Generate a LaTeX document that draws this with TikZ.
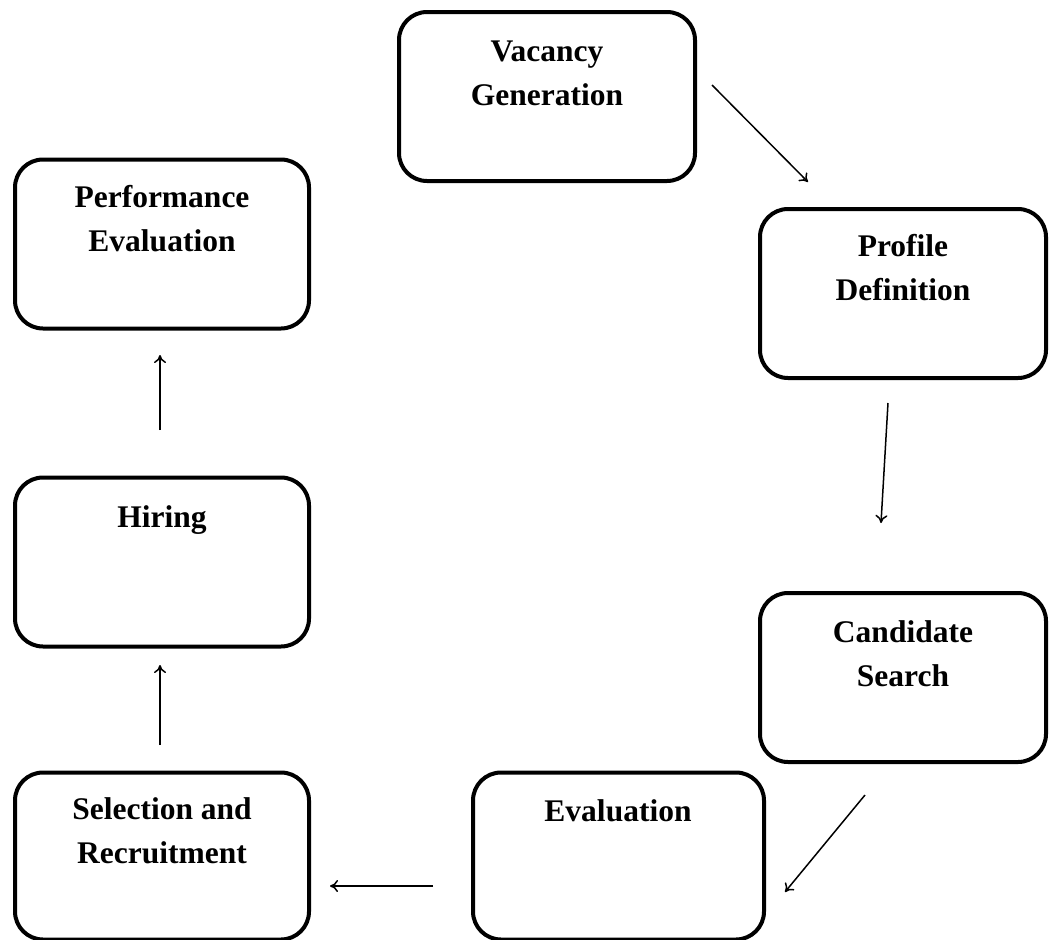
\documentclass[tikz,border=0pt]{standalone}
\usepackage{fontspec}
\setmainfont{Liberation Serif}
\usetikzlibrary{arrows.meta}
\begin{document}
\begin{tikzpicture}[x=1pt,y=-1pt,
  box/.style={draw, line width=4pt, rounded corners=28pt, minimum height=169pt, inner sep=0pt},
  lbl/.style={font=\fontsize{31.5}{44}\selectfont\bfseries, align=center, inner sep=0pt, anchor=base},
  flow/.style={line width=1.5pt, -{To[length=8pt,width=12pt]}}]
\useasboundingbox (0,0) rectangle (1050,940);
% boxes
\node[box, minimum width=296pt] (vac)  at (547,96.5) {};
\node[box, minimum width=286pt] (prof) at (903,293.5) {};
\node[box, minimum width=294pt] (perf) at (162,244) {};
\node[box, minimum width=294pt] (hire) at (162,562) {};
\node[box, minimum width=286pt] (cand) at (903,677.5) {};
\node[box, minimum width=291pt, minimum height=167pt] (eval) at (618.5,856) {};
\node[box, minimum width=294pt, minimum height=167pt] (sel)  at (162,856) {};
% labels (anchor = baseline of last line)
\node[lbl] (tvac)  at (547,105) {Vacancy\\Generation};
\node[lbl] (tprof) at (903,300) {Profile\\Definition};
\node[lbl] (tperf) at (162,251) {Performance\\Evaluation};
\node[lbl] (thire) at (162,527) {Hiring};
\node[lbl] (tcand) at (903,686) {Candidate\\Search};
\node[lbl] (teval) at (618,821) {Evaluation};
\node[lbl] (tsel)  at (162,863) {Selection and\\Recruitment};
% arrow ends
\coordinate (a1s) at (712,85);  \coordinate (a1e) at (808,182);
\coordinate (a2s) at (888,403); \coordinate (a2e) at (881,523);
\coordinate (a3s) at (865,795); \coordinate (a3e) at (785,892);
\coordinate (a4s) at (433,886); \coordinate (a4e) at (330,886);
\coordinate (a5s) at (160,745); \coordinate (a5e) at (160,665);
\coordinate (a6s) at (160,430); \coordinate (a6e) at (160,355);
\draw[flow] (a1s) -- (a1e);
\draw[flow] (a2s) -- (a2e);
\draw[flow] (a3s) -- (a3e);
\draw[flow] (a4s) -- (a4e);
\draw[flow] (a5s) -- (a5e);
\draw[flow] (a6s) -- (a6e);
\end{tikzpicture}
\end{document}
